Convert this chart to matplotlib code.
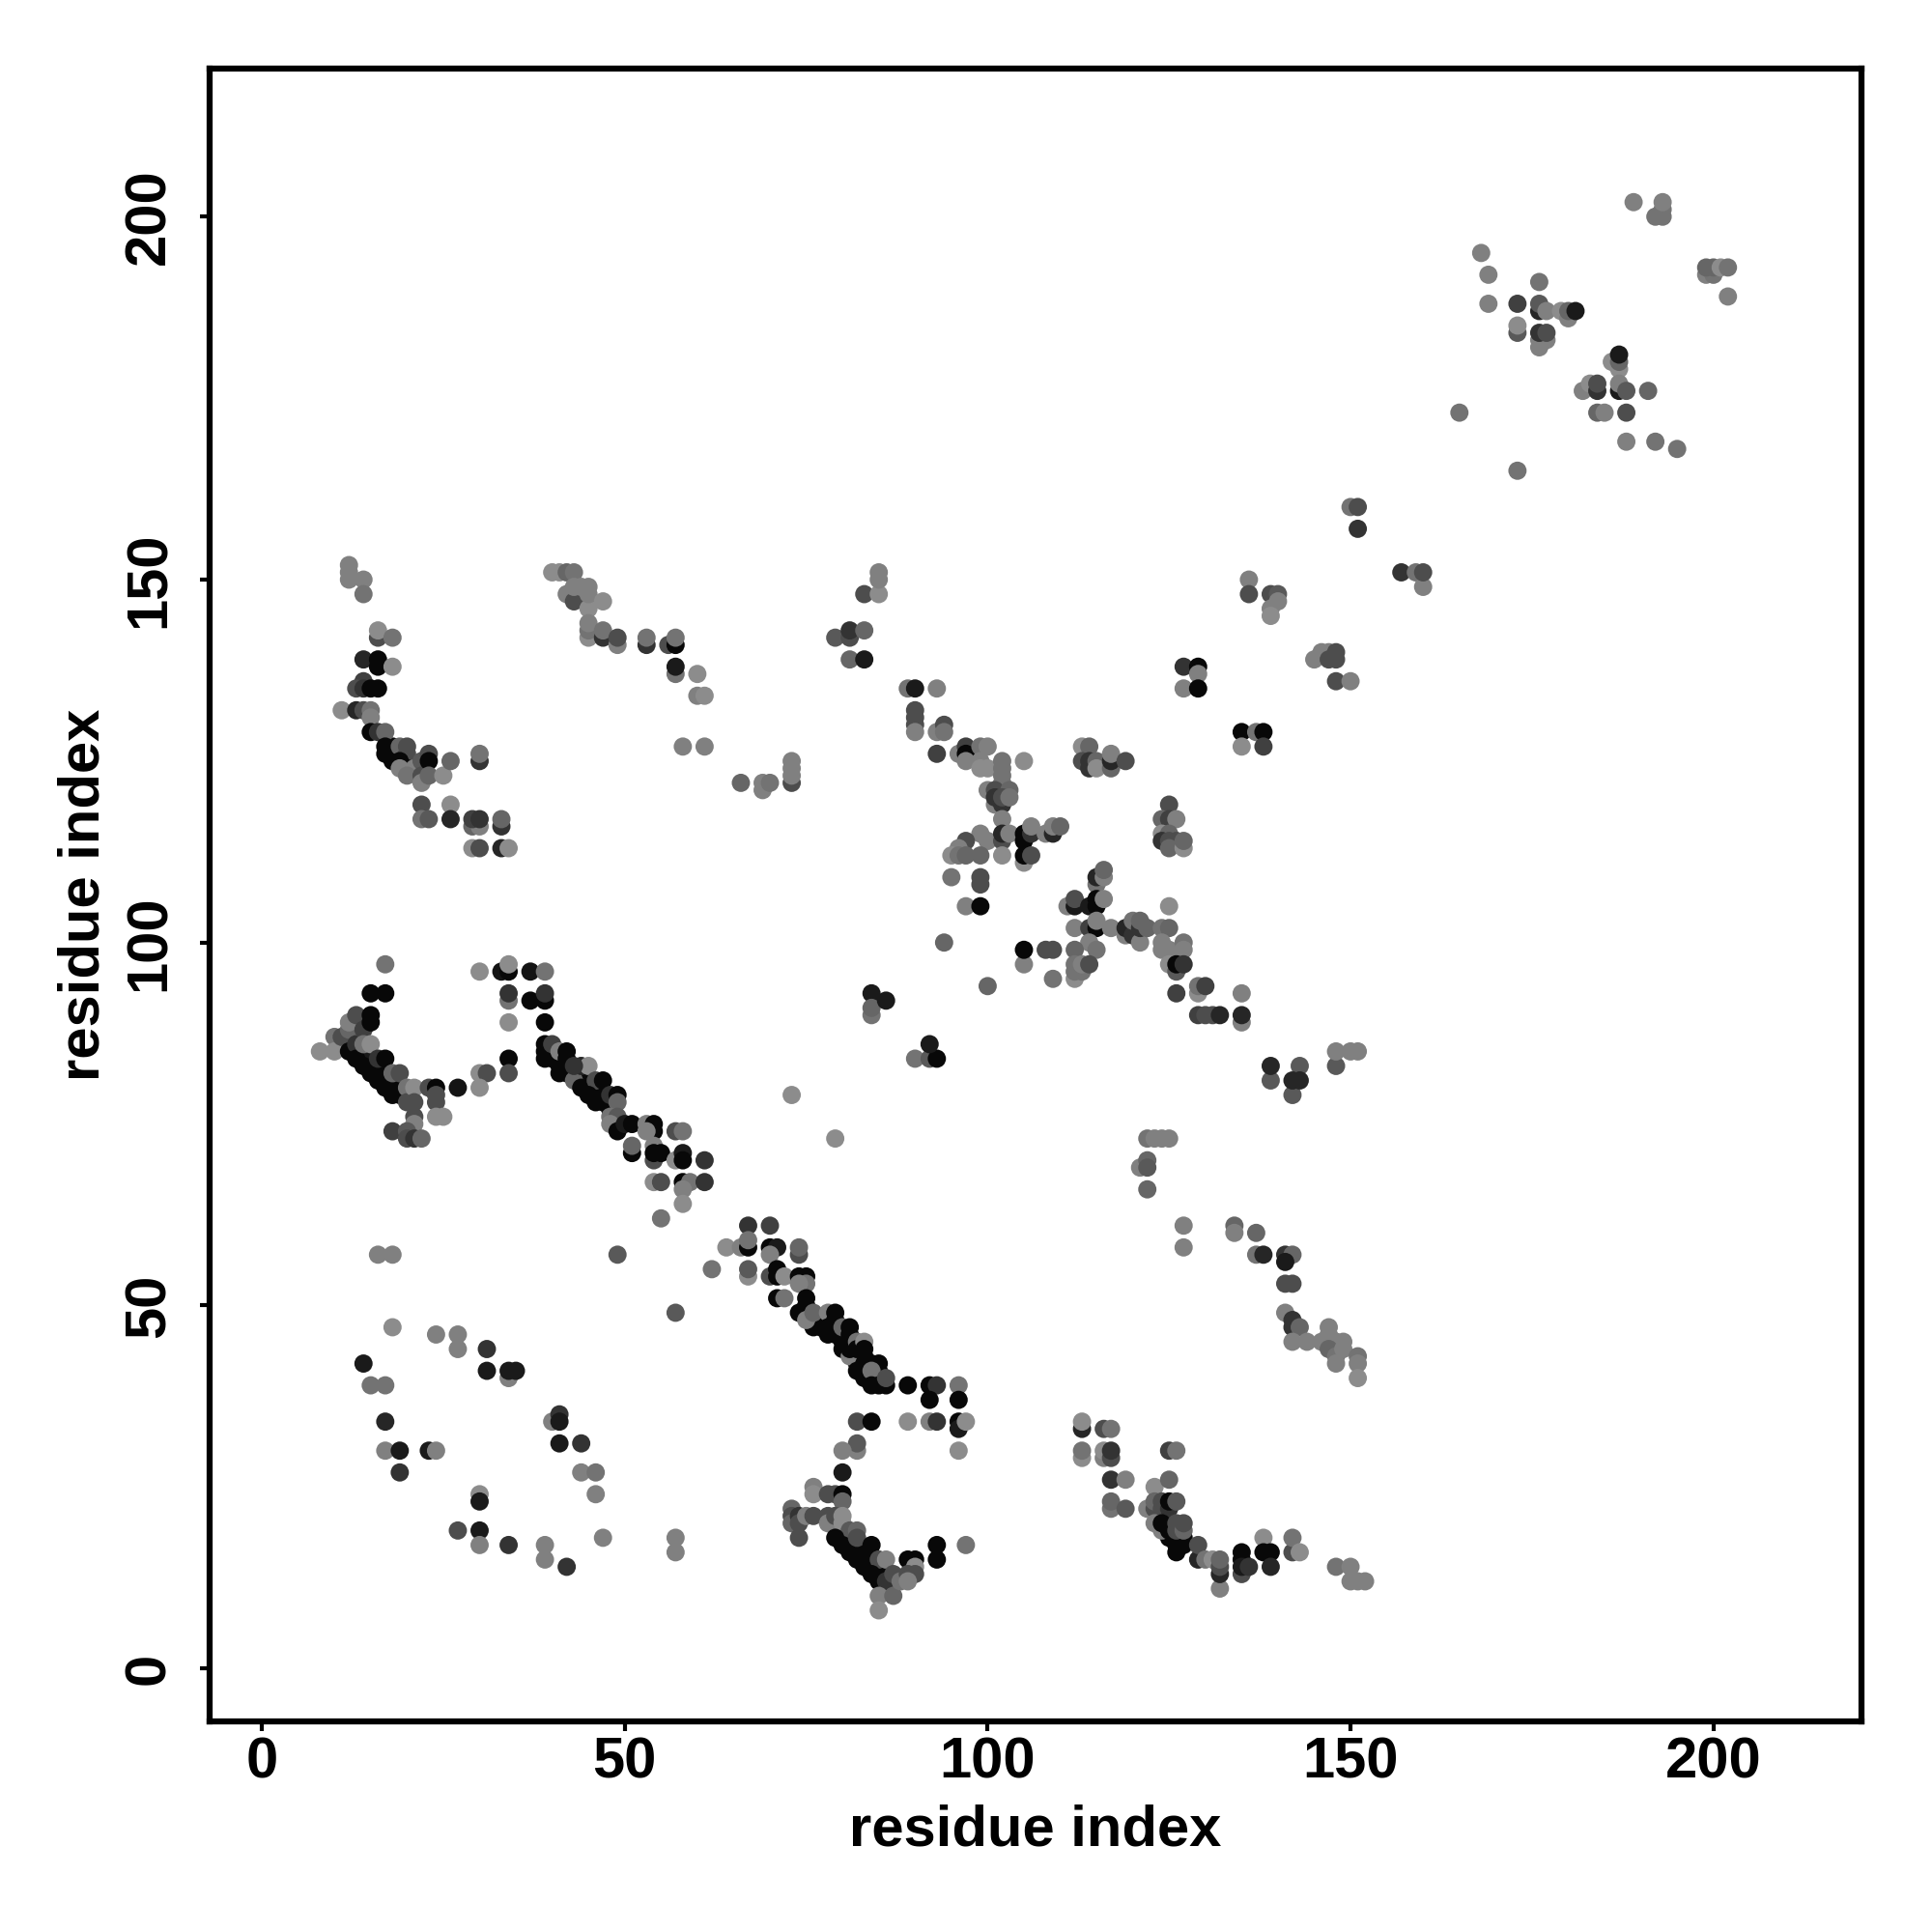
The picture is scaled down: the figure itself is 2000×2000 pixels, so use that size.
# -*- coding: utf-8 -*-
import numpy as np
from matplotlib import pyplot as plt

plt.rcParams['font.family'] = ['Liberation Sans', 'DejaVu Sans']

# contacts per cluster: (residue i, residue j, grey level)
# strongest contacts hidden inside the dense diagonals, drawn first
band_core = [
    (13,85,.03),(14,84,.03),(15,83,.03),(16,82,.03),(17,81,.03),(18,80,.03),(19,80,.03),(14,85,.1),(15,84,.1),
    (40,85,.03),(40,84,.03),(41,84,.03),(41,83,.03),(42,83,.03),(43,82,.03),(44,81,.03),(45,81,.03),(45,80,.03),(46,80,.03),(46,79,.03),
    (47,79,.03),(47,78,.03),(48,78,.03),(48,77,.03),
    (76,47,.03),(77,48,.03),(77,47,.03),(78,48,.03),(79,46,.03),(79,47,.03),(80,46,.03),(80,45,.03),(81,45,.03),(82,43,.03),(82,42,.03),
    (83,43,.03),(83,40,.03),(84,42,.03),(84,40,.03),(85,40,.03),(85,41,.03),
    (80,19,.03),(80,18,.03),(81,18,.03),(81,17,.03),(82,17,.03),(82,16,.03),(83,16,.03),(83,15,.03),(84,15,.03),(84,14,.03),(85,14,.03),
    (85,13,.03),(86,13,.03),
    (18,125,.03),(18,127,.03),(19,126,.03),(125,18,.03),(125,20,.03),(127,18,.03),(126,16,.03),
]
band_left = [
    (8,85,.55),(10,87,.45),(10,85,.55),(11,87,.3),(12,88,.4),(12,89,.5),(13,90,.3),(12,85,.03),(13,86,.2),(13,84,.03),
    (14,88,.25),(14,83,.03),(14,86,.45),(15,90,.03),(15,89,.03),(15,86,.55),(15,82,.03),(16,81,.03),(16,84,.2),(17,84,.03),
    (17,80,.03),(18,79,.03),(18,82,.4),(19,82,.3),(19,79,.03),(20,80,.45),(20,78,.3),(21,80,.55),(21,78,.3),(21,76,.3),
    (21,75,.5),(18,74,.25),(20,74,.35),(20,73,.3),(21,73,.2),(22,73,.4),(23,80,.3),(24,80,.03),(24,79,.3),(24,78,.3),
    (24,76,.55),(25,76,.55),(27,80,.08),(30,82,.55),(31,82,.3),(30,80,.55),(34,84,.03),(34,82,.3),
    (17,97,.45),(15,93,.03),(17,93,.03),(30,96,.55),(33,96,.08),(34,96,.03),(34,97,.55),(37,96,.08),(39,96,.45),
    (34,92,.45),(34,93,.2),(34,89,.55),(37,92,.03),(39,92,.03),(39,93,.2),(39,89,.03),
]
band_mid = [
    (39,86,.03),(39,85,.03),(39,84,.03),(40,86,.25),(41,85,.5),(42,85,.03),(42,84,.03),(41,82,.03),(42,82,.03),(43,81,.4),
    (44,83,.15),(45,83,.55),(43,83,.2),(44,80,.03),(46,81,.3),(47,81,.03),(45,79,.03),(46,78,.03),(48,79,.2),(49,79,.03),
    (49,78,.4),(48,76,.45),(49,76,.35),(48,75,.5),(49,74,.03),(50,75,.1),(51,75,.03),(53,75,.5),(54,75,.03),(54,74,.03),
    (53,74,.5),(57,74,.3),(58,74,.45),(51,71,.03),(51,72,.4),(54,72,.5),(54,70,.3),(54,71,.03),(55,71,.03),(57,70,.55),
    (58,71,.1),(58,70,.03),(61,70,.2),(54,67,.55),(55,67,.3),(58,67,.03),(59,67,.45),(61,67,.2),(58,66,.5),(58,64,.55),
    (55,62,.45),(16,57,.5),(18,57,.5),(49,57,.35),(57,49,.35),
]
band_low = [
    (67,61,.2),(70,61,.25),(64,58,.55),(66,58,.5),(67,58,.03),(67,59,.45),(70,58,.03),(71,58,.1),(70,57,.5),(74,57,.3),
    (74,58,.4),(62,55,.45),(67,54,.55),(67,55,.35),(70,54,.3),(71,55,.03),(71,54,.03),(72,54,.55),(74,54,.03),(75,54,.03),
    (75,53,.45),(74,53,.5),(71,51,.03),(72,51,.45),(75,51,.03),(74,49,.03),(75,50,.03),(75,48,.5),(76,49,.4),(78,49,.5),
    (79,49,.03),(78,47,.03),(78,46,.03),(79,48,.03),(80,47,.4),(81,47,.03),(80,44,.03),(81,46,.03),(81,43,.5),(81,44,.03),
    (82,45,.45),(82,44,.03),(83,45,.55),(83,44,.03),(82,41,.03),(83,42,.03),(83,41,.03),(85,42,.03),(84,41,.45),(84,39,.03),
    (85,39,.03),(86,39,.03),(86,40,.3),(89,39,.03),(92,39,.03),(93,39,.2),(92,37,.03),(96,39,.45),(96,37,.03),
    (82,34,.3),(84,34,.03),(89,34,.55),(92,34,.5),(93,34,.2),(96,34,.03),(96,33,.1),(97,34,.55),(96,30,.55),
    (82,30,.5),(82,31,.35),(80,30,.5),(80,27,.1),
]
band_foot = [
    (76,25,.5),(76,24,.55),(78,24,.3),(79,24,.3),(80,24,.03),(80,23,.4),(73,22,.4),(73,21,.3),(73,20,.4),(74,21,.2),
    (74,20,.3),(74,18,.3),(75,21,.5),(76,21,.3),(78,21,.3),(78,20,.5),(79,21,.3),(80,21,.55),(80,20,.55),(81,19,.35),
    (82,19,.4),(79,18,.03),(80,17,.03),(81,16,.03),(82,15,.03),(83,14,.03),(82,18,.3),(84,17,.03),(85,15,.3),(86,15,.5),
    (84,13,.03),(85,12,.03),(86,12,.2),(85,10,.5),(85,8,.55),(87,13,.3),(87,10,.4),(88,12,.45),(89,15,.03),(90,15,.03),
    (90,14,.55),(90,13,.3),(89,13,.3),(89,12,.5),(93,17,.03),(93,15,.03),(97,17,.45),
]
upper_left = [
    (12,152,.5),(12,151,.5),(12,150,.5),(14,150,.5),(14,148,.45),(16,142,.3),(16,143,.55),(18,142,.45),(14,139,.15),(16,139,.03),
    (16,138,.03),(18,138,.55),(14,136,.25),(13,135,.3),(14,135,.2),(15,135,.03),(16,135,.03),(11,132,.55),(13,132,.15),(14,132,.3),
    (15,132,.45),(15,131,.5),(15,129,.03),(16,129,.2),(17,129,.4),(17,127,.03),(17,126,.03),(18,126,.03),(19,127,.4),(20,127,.3),
    (20,126,.3),(19,125,.03),(20,124,.03),(21,124,.5),(19,124,.5),(20,123,.45),(22,125,.35),(22,123,.3),(22,122,.5),(23,126,.3),
    (23,125,.03),(23,123,.4),(25,123,.55),(26,125,.4),(30,125,.2),(30,126,.45),(22,119,.3),(26,119,.55),(22,117,.45),(23,117,.35),
    (26,117,.15),(29,116,.4),(30,116,.5),(29,117,.25),(30,117,.2),(33,116,.2),(33,117,.4),(29,113,.55),(30,113,.3),(33,113,.15),
    (34,113,.55),
    (40,151,.55),(41,151,.55),(42,151,.4),(43,151,.45),(42,148,.5),(43,147,.3),(45,147,.3),(45,146,.55),(43,149,.5),(44,149,.5),
    (45,148,.5),(45,149,.5),(47,147,.55),(45,142,.55),(45,143,.45),(45,144,.5),(47,142,.2),(47,143,.45),(49,141,.5),(49,142,.3),
    (53,141,.2),(53,142,.45),(56,141,.3),(57,141,.03),(57,142,.45),(57,137,.45),(57,138,.1),(60,137,.55),(60,134,.5),(61,134,.55),
    (58,127,.5),(61,127,.5),(66,122,.4),(69,121,.5),(69,122,.5),(70,122,.45),(73,122,.3),(73,123,.5),(73,124,.5),(73,125,.5),
]
centre_upper = [
    (79,142,.35),(81,142,.3),(81,143,.2),(83,143,.4),(83,148,.3),(85,148,.55),(85,150,.5),(85,151,.5),(81,139,.4),(83,139,.1),
    (89,135,.45),(90,135,.1),(93,135,.5),(90,132,.3),(90,131,.3),(90,130,.3),(90,129,.5),
    (93,129,.5),(94,130,.3),(94,129,.45),(93,126,.25),(96,126,.5),(97,127,.25),(97,126,.03),(97,125,.5),(99,127,.45),(100,127,.5),
    (99,125,.5),(99,124,.55),(100,124,.55),(105,125,.55),(102,125,.45),(102,124,.45),(102,123,.45),(102,122,.45),(100,121,.5),
    (101,121,.3),(103,121,.4),(101,119,.5),(101,120,.2),(102,119,.2),(102,120,.3),(103,120,.45),(102,117,.5),
    (99,115,.5),(100,114,.5),(97,114,.3),(96,113,.5),(95,112,.55),(96,112,.45),(97,112,.4),(99,112,.4),(102,114,.3),(102,115,.15),
    (103,115,.5),(102,112,.55),(105,115,.03),(105,114,.03),(106,115,.2),(106,116,.5),(105,111,.55),(105,112,.03),(106,112,.3),
    (108,115,.5),(109,115,.15),(109,116,.5),(110,116,.4),(95,109,.45),(99,108,.3),(99,109,.3),(97,105,.5),(99,105,.03),
    (113,127,.55),(114,127,.4),(113,125,.3),(114,125,.2),(114,124,.2),(115,125,.4),(115,124,.55),(117,124,.4),(117,125,.15),(117,126,.5),
    (119,125,.3),(125,119,.3),(124,117,.4),(125,117,.25),(126,117,.5),(124,115,.55),(125,115,.4),(124,114,.2),(125,114,.3),(126,114,.3),
    (125,113,.4),(127,113,.55),(127,114,.4),
]
centre_lower = [
    (94,100,.4),(105,97,.5),(105,99,.03),(108,99,.3),(109,99,.3),(100,94,.4),(109,95,.45),
    (115,108,.45),(115,109,.15),(116,109,.5),(116,110,.4),(111,105,.5),(112,105,.1),(112,106,.3),(114,105,.1),(115,105,.03),(115,106,.03),
    (116,106,.5),(112,102,.5),(114,102,.25),(115,102,.03),(115,103,.5),(117,102,.5),(119,101,.5),(119,102,.15),(120,101,.2),(121,100,.5),
    (120,103,.45),(121,102,.2),(121,103,.4),(122,102,.4),(124,102,.45),(125,102,.4),(125,105,.55),(124,100,.5),(124,99,.5),(125,99,.5),
    (125,97,.55),(127,100,.45),(127,99,.5),(126,96,.35),(126,97,.03),(127,97,.2),
    (114,100,.5),(112,99,.4),(115,99,.45),(112,95,.55),(112,96,.45),(113,96,.45),(112,97,.45),(113,97,.5),(114,97,.3),
    (126,93,.25),(129,93,.55),(129,94,.45),(130,94,.25),(135,93,.5),(129,90,.25),(130,90,.3),(131,90,.3),(132,90,.15),(135,89,.5),(135,90,.15),
    (84,93,.1),(84,90,.45),(84,91,.4),(86,92,.1),(90,84,.45),(92,84,.35),(93,84,.03),(92,86,.1),(73,79,.55),(79,73,.55),
]
upper_right = [
    (135,129,.03),(137,129,.45),(135,127,.55),(138,129,.03),(138,127,.25),
    (127,138,.2),(129,138,.03),(127,135,.5),(129,137,.5),(129,135,.03),
    (136,150,.5),(136,148,.3),(139,148,.3),(140,148,.35),(139,146,.5),(140,147,.5),(139,145,.55),
    (145,139,.5),(146,140,.5),(147,140,.5),(148,140,.3),(147,139,.3),(148,139,.3),(148,136,.3),(150,136,.5),
    (150,160,.45),(151,160,.3),(151,157,.2),(157,151,.2),(159,151,.45),(160,149,.5),(160,151,.3),
    (165,173,.45),(173,165,.45),
    (168,195,.5),(169,192,.5),(169,188,.5),(176,191,.45),(173,188,.25),(176,187,.15),(176,188,.35),(177,187,.5),(179,187,.55),
    (180,186,.5),(180,187,.4),(181,187,.1),(173,184,.35),(173,185,.55),(176,182,.5),(176,183,.5),(177,183,.5),(176,184,.2),(177,184,.3),
    (186,180,.55),(187,179,.55),(187,180,.4),(187,181,.1),(182,176,.5),(183,177,.55),(184,176,.2),(184,177,.3),(187,176,.1),(187,177,.5),
    (188,176,.35),(191,176,.4),(184,173,.4),(185,173,.5),(188,173,.3),(188,169,.5),(192,169,.45),(195,168,.45),
    (199,192,.5),(200,192,.45),(199,193,.4),(200,193,.4),(201,193,.55),(202,193,.45),(202,189,.5),
    (189,202,.5),(192,200,.45),(193,200,.45),(193,201,.45),(193,202,.5),
]
lower_right = [
    (139,81,.35),(139,83,.15),(143,83,.35),(142,79,.35),(142,81,.15),(143,81,.15),(148,83,.35),(148,85,.5),(150,85,.5),(151,85,.5),
    (122,73,.45),(123,73,.5),(124,73,.5),(125,73,.5),(121,69,.5),(122,70,.4),(122,69,.35),(122,66,.4),(127,61,.5),(127,58,.5),
    (134,61,.4),(134,60,.5),(137,60,.4),(137,57,.45),(138,57,.15),(141,57,.2),(142,57,.4),(141,56,.1),(141,53,.3),(142,53,.3),
    (141,49,.5),(142,48,.2),(142,47,.2),(143,47,.4),(142,45,.5),(144,45,.5),(146,45,.5),(147,47,.5),(147,46,.5),(148,45,.5),
    (149,45,.5),(147,44,.4),(148,43,.45),(149,44,.5),(148,42,.5),(151,43,.45),(151,42,.5),(151,40,.55),
    (113,33,.15),(113,34,.55),(116,33,.3),(117,33,.45),(113,29,.55),(113,30,.45),(116,29,.5),(116,30,.55),(117,29,.3),(117,30,.2),
    (125,30,.25),(126,30,.45),(117,26,.2),(119,26,.5),(123,25,.55),(125,26,.4),(117,22,.45),(117,23,.4),(119,22,.35),(122,22,.5),
    (123,22,.3),(123,23,.4),(124,22,.3),(124,23,.3),(125,22,.2),(125,23,.03),(126,23,.35),(123,20,.5),(124,19,.5),(124,20,.03),
    (125,19,.03),(126,18,.03),(126,17,.03),(127,17,.03),(126,19,.3),(126,20,.3),(127,19,.4),(127,20,.3),(129,15,.15),(129,17,.3),
    (130,15,.45),(131,15,.55),(132,11,.5),(132,13,.15),(132,14,.3),(132,15,.4),(135,16,.03),(135,15,.03),(135,13,.3),(135,14,.1),
    (136,14,.2),(138,18,.55),(138,16,.03),(139,16,.03),(139,14,.15),(142,16,.3),(142,18,.45),(143,16,.55),
    (148,14,.45),(150,14,.5),(150,12,.5),(151,12,.5),(152,12,.5),
]
lower_left = [
    (14,42,.1),(15,39,.45),(17,39,.45),(17,34,.15),(17,30,.5),(19,30,.1),(19,27,.2),(23,30,.1),(24,30,.5),(18,47,.55),
    (24,46,.5),(27,46,.5),(27,44,.5),(31,44,.2),(31,41,.1),(34,40,.5),(34,41,.1),(35,41,.1),(40,34,.5),(41,35,.2),
    (41,34,.1),(41,31,.1),(44,31,.2),(44,27,.5),(46,27,.45),(46,24,.5),(30,24,.55),(30,23,.1),(27,19,.3),(30,19,.1),
    (30,17,.5),(34,17,.2),(39,17,.5),(39,15,.5),(42,14,.2),(47,18,.5),(57,18,.5),(57,16,.5),
]

clusters = [band_core, band_left, band_mid, band_low, band_foot, upper_left, centre_upper,
            centre_lower, upper_right, lower_right, lower_left]
pts = [p for c in clusters for p in c]
xs = np.array([p[0] for p in pts])
ys = np.array([p[1] for p in pts])
greys = [str(p[2]) for p in pts]

tick_vals = [0, 50, 100, 150, 200]

fig = plt.figure(figsize=(20, 20), dpi=100)
ax = fig.add_axes([217/2000, 1-1782/2000, (1927-217)/2000, (1782-71)/2000])
ax.scatter(xs, ys, s=185, c=greys, linewidths=0, zorder=3)

ax.set_xlim(-7.2, 220.4)
ax.set_ylim(-7.3, 220.4)
ax.set_xticks(tick_vals)
ax.set_yticks(tick_vals)
ax.tick_params(width=3, length=7, labelsize=43)
ax.tick_params(axis='x', pad=4)
ax.tick_params(axis='y', pad=18)
for lab in ax.get_xticklabels() + ax.get_yticklabels():
    lab.set_fontweight('bold')
for lab in ax.get_yticklabels():
    lab.set_rotation(90)
    lab.set_va('center')
for s in ax.spines.values():
    s.set_linewidth(4.5)
ax.set_xlabel('residue index', fontsize=43, fontweight='bold', labelpad=11)
ax.set_ylabel('residue index', fontsize=43, fontweight='bold', labelpad=9)

fig.savefig('out.png', dpi=100, facecolor='white')
